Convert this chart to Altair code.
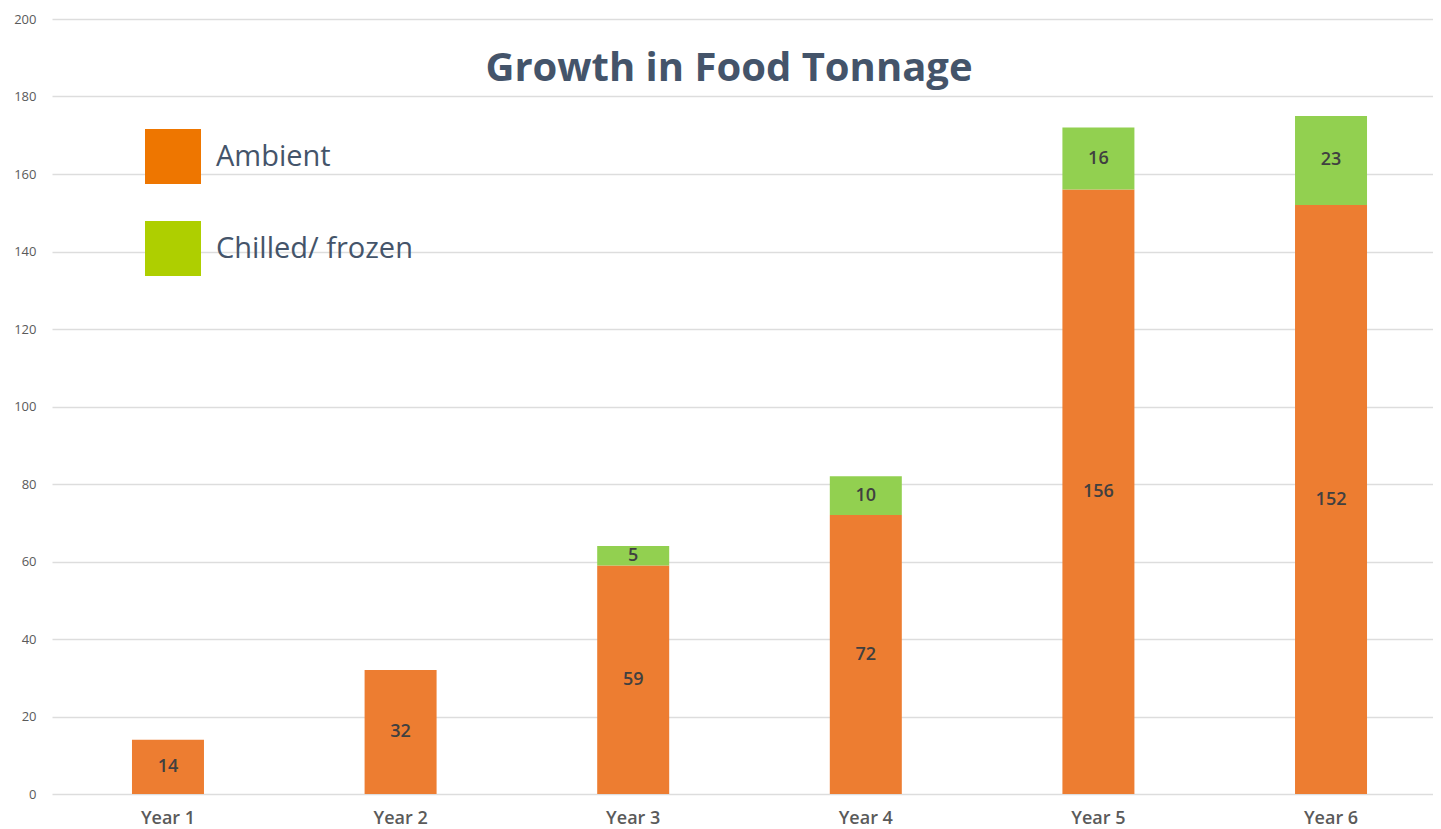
import altair as alt
import pandas as pd

years = ["Year 1", "Year 2", "Year 3", "Year 4", "Year 5", "Year 6"]
ambient = [14, 32, 59, 72, 156, 152]
chilled = [0, 0, 5, 10, 16, 23]
series = ["Ambient", "Chilled/ frozen"]
bar_colors = ["#ED7D31", "#92D050"]
legend_colors = ["#EE7600", "#AECF00"]
title_text = "Growth in Food Tonnage"

rows = []
for i, y in enumerate(years):
    rows.append({"year": y, "series": series[0], "value": ambient[i], "ord": 0})
    rows.append({"year": y, "series": series[1], "value": chilled[i], "ord": 1})
df = pd.DataFrame(rows)

FONT = "Open Sans"
W, H = 1381, 775

xenc = alt.X(
    "year:N",
    sort=years,
    title=None,
    scale=alt.Scale(paddingInner=0.69, paddingOuter=0.3135, align=0.548),
    axis=alt.Axis(labelAngle=0, labelFont=FONT, labelFontSize=18, labelFontWeight=600,
                  labelColor="#5A5A5A", ticks=False, domain=False, labelPadding=15),
)

bars = alt.Chart(df).mark_bar(size=72).encode(
    x=xenc,
    y=alt.Y(
        "value:Q",
        stack="zero",
        title=None,
        scale=alt.Scale(domain=[0, 200], nice=False),
        axis=alt.Axis(values=list(range(0, 201, 20)), labelFont=FONT, labelFontSize=13,
                      labelColor="#5A5A5A", ticks=False, domain=False, labelPadding=16,
                      gridColor="#DDDDDD", gridWidth=1.6),
    ),
    color=alt.Color("series:N", scale=alt.Scale(domain=series, range=bar_colors), legend=None),
    order=alt.Order("ord:Q", sort="ascending"),
)

labels = alt.Chart(df).transform_stack(
    stack="value", as_=["y0", "y1"], groupby=["year"], sort=[alt.SortField("ord", order="ascending")]
).transform_filter(
    alt.datum.value > 0
).transform_calculate(
    mid="(datum.y0 + datum.y1) / 2"
).mark_text(font=FONT, fontSize=18, fontWeight=600, color="#404040", baseline="middle").encode(
    x=alt.X("year:N", sort=years),
    y=alt.Y("mid:Q"),
    text=alt.Text("value:Q"),
)

title = alt.Chart(pd.DataFrame({"t": [title_text]})).mark_text(
    font=FONT, fontSize=40, fontWeight="bold", color="#44546A", align="center", baseline="middle"
).encode(x=alt.value(677), y=alt.value(50), text="t:N")

layers = [bars, labels, title]
for i, name in enumerate(series):
    d = pd.DataFrame({"name": [name]})
    top = 110 + i * 92
    layers.append(
        alt.Chart(d).mark_rect(color=legend_colors[i]).encode(
            x=alt.value(93), x2=alt.value(149), y=alt.value(top), y2=alt.value(top + 55)
        )
    )
    layers.append(
        alt.Chart(d).mark_text(font=FONT, fontSize=29, color="#44546A", align="left", baseline="middle").encode(
            x=alt.value(164), y=alt.value(top + 28), text="name:N"
        )
    )

chart = alt.layer(*layers).properties(
    width=W, height=H,
    autosize=alt.AutoSizeParams(type="none"),
    padding={"left": 44, "top": 11, "right": 0, "bottom": 36},
).configure(background="white").configure_view(stroke=None)

chart.save("out.html", embed_options={"renderer": "svg", "actions": False})
